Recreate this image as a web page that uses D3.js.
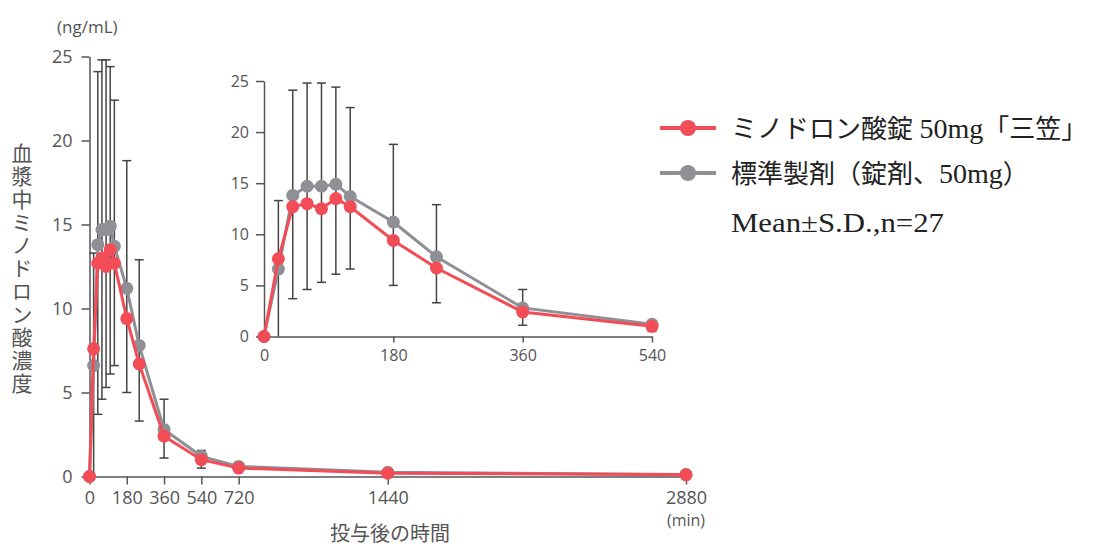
<!DOCTYPE html>
<meta charset="utf-8">
<title>ミノドロン酸 血漿中濃度</title>
<script src="https://d3js.org/d3.v7.min.js"></script>
<style>
  body { margin: 0; background: #fff; }
  .tick text { font-family: "Open Sans", "DejaVu Sans", sans-serif; fill: #555; }
  .axis path, .axis line { stroke: #555; stroke-width: 1.5; }
</style>
<body>
<div id="chart"></div>
<script>

// sampling times (min)
var times = [0, 20, 40, 60, 80, 100, 120, 180, 240, 360, 540, 720, 1440, 2880];
// mean plasma concentration (ng/mL)
var testMean = [0, 7.6, 12.7, 13.0, 12.5, 13.5, 12.7, 9.4, 6.7, 2.4, 1.0, 0.5, 0.2, 0.1];
var refMean  = [0, 6.6, 13.8, 14.7, 14.7, 14.9, 13.7, 11.2, 7.8, 2.8, 1.2, 0.6, 0.25, 0.12];
// S.D. bar ends as drawn
var sdLow  = [null, 0, 3.7, 4.6, 5.3, 6.1, 6.6, 5.0, 3.3, 1.1, 0.5, null, null, null];
var sdHigh = [null, 13.3, 24.1, 24.8, 24.8, 24.4, 22.4, 18.8, 12.9, 4.6, 1.55, null, null, null];

var mainTicksX = [0, 180, 360, 540, 720, 1440, 2880];
var insetTicksX = [0, 180, 360, 540];
var ticksY = [0, 5, 10, 15, 20, 25];

var seriesNames = [["ミノドロン酸錠 ", "50mg", "「三笠」"], ["標準製剤（錠剤、", "50mg", "）"]];
var note = "Mean±S.D.,n=27";

var red = "#f24c56", grey = "#8f8f96", barColor = "#444";

var width = 1099, height = 548;
var svg = d3.select("#chart").append("svg")
    .attr("width", width)
    .attr("height", height);

var rows = times.map(function(t, i) {
  return { t: t, test: testMean[i], ref: refMean[i], lo: sdLow[i], hi: sdHigh[i] };
});

// draws one panel (main or inset)
function panel(x, y, data, xticks, opt) {
  var g = svg.append("g");

  g.append("g")
    .attr("class", "axis")
    .attr("transform", "translate(0," + y(0) + ")")
    .call(d3.axisBottom(x).tickValues(xticks).tickFormat(d3.format("d"))
      .tickSize(opt.tick).tickSizeOuter(0).tickPadding(opt.padX))
    .call(function(a) { a.selectAll("text").style("font-size", opt.font + "px"); });

  g.append("g")
    .attr("class", "axis")
    .attr("transform", "translate(" + x(0) + ",0)")
    .call(d3.axisLeft(y).tickValues(ticksY).tickSize(8).tickSizeOuter(0).tickPadding(opt.padY))
    .call(function(a) { a.selectAll("text").style("font-size", opt.font + "px"); });

  // error bars
  var eb = data.filter(function(d) { return d.hi != null; });
  var bars = g.append("g").attr("stroke", barColor).attr("stroke-width", 1.5);
  bars.selectAll(".v").data(eb).enter().append("line")
    .attr("x1", function(d) { return x(d.t); })
    .attr("x2", function(d) { return x(d.t); })
    .attr("y1", function(d) { return y(d.lo); })
    .attr("y2", function(d) { return y(d.hi); });
  bars.selectAll(".top").data(eb).enter().append("line")
    .attr("x1", function(d) { return x(d.t) - 4.5; })
    .attr("x2", function(d) { return x(d.t) + 4.5; })
    .attr("y1", function(d) { return y(d.hi); })
    .attr("y2", function(d) { return y(d.hi); });
  bars.selectAll(".bot").data(eb.filter(function(d) { return d.lo > 0; })).enter().append("line")
    .attr("x1", function(d) { return x(d.t) - 4.5; })
    .attr("x2", function(d) { return x(d.t) + 4.5; })
    .attr("y1", function(d) { return y(d.lo); })
    .attr("y2", function(d) { return y(d.lo); });

  [["ref", grey], ["test", red]].forEach(function(s) {
    var key = s[0], col = s[1];
    g.append("path")
      .datum(data)
      .attr("fill", "none")
      .attr("stroke", col)
      .attr("stroke-width", 3)
      .attr("d", d3.line()
        .x(function(d) { return x(d.t); })
        .y(function(d) { return y(d[key]); }));
    g.selectAll(".dot-" + key).data(data).enter().append("circle")
      .attr("cx", function(d) { return x(d.t); })
      .attr("cy", function(d) { return y(d[key]); })
      .attr("r", 6.5)
      .attr("fill", col);
  });
  return g;
}

// main chart
var x = d3.scaleLinear().domain([0, 2880]).range([89.5, 686]);
var y = d3.scaleLinear().domain([0, 25]).range([476.5, 56.5]);
panel(x, y, rows, mainTicksX, { tick: 8, padX: 7, padY: 9, font: 18 });

// inset chart (0-540 min)
var xi = d3.scaleLinear().domain([0, 540]).range([264, 652]);
var yi = d3.scaleLinear().domain([0, 25]).range([336.5, 81]);
panel(xi, yi, rows.filter(function(d) { return d.t <= 540; }), insetTicksX, { tick: 6, padX: 7, padY: 7, font: 16 });

// axis titles
svg.append("text")
  .attr("x", 57).attr("y", 33)
  .style("font-family", "'Open Sans', sans-serif")
  .style("font-size", "17px").style("fill", "#555")
  .text("(ng/mL)");

svg.append("text")
  .attr("x", 22).attr("y", 143)
  .style("writing-mode", "vertical-rl")
  .style("font-family", "'Noto Sans CJK JP', sans-serif")
  .style("font-size", "21px").style("letter-spacing", "2px").style("fill", "#555")
  .text("血漿中ミノドロン酸濃度");

svg.append("text")
  .attr("x", 390).attr("y", 541)
  .attr("text-anchor", "middle")
  .style("font-family", "'Noto Sans CJK JP', sans-serif")
  .style("font-size", "20px").style("fill", "#555")
  .text("投与後の時間");

svg.append("text")
  .attr("x", 686).attr("y", 526)
  .attr("text-anchor", "middle")
  .style("font-family", "'Open Sans', sans-serif")
  .style("font-size", "16px").style("fill", "#555")
  .text("(min)");

// legend
var legend = svg.append("g");
[red, grey].forEach(function(col, i) {
  var ly = 128 + i * 45;
  legend.append("line")
    .attr("x1", 660).attr("x2", 716).attr("y1", ly).attr("y2", ly)
    .attr("stroke", col).attr("stroke-width", 4);
  legend.append("circle")
    .attr("cx", 688).attr("cy", ly).attr("r", 8).attr("fill", col);
  var t = legend.append("text")
    .attr("x", 731).attr("y", ly + 10)
    .style("font-family", "'Liberation Serif', 'Noto Sans CJK JP', serif")
    .style("font-size", "26px").style("fill", "#222");
  seriesNames[i].forEach(function(part, j) {
    t.append("tspan")
      .style("font-size", j === 1 ? "28px" : null)
      .text(part);
  });
});
legend.append("text")
  .attr("x", 731).attr("y", 232)
  .attr("textLength", 213).attr("lengthAdjust", "spacingAndGlyphs")
  .style("font-family", "'Liberation Serif', serif")
  .style("font-size", "27px").style("fill", "#222")
  .text(note);

</script>
</body>
